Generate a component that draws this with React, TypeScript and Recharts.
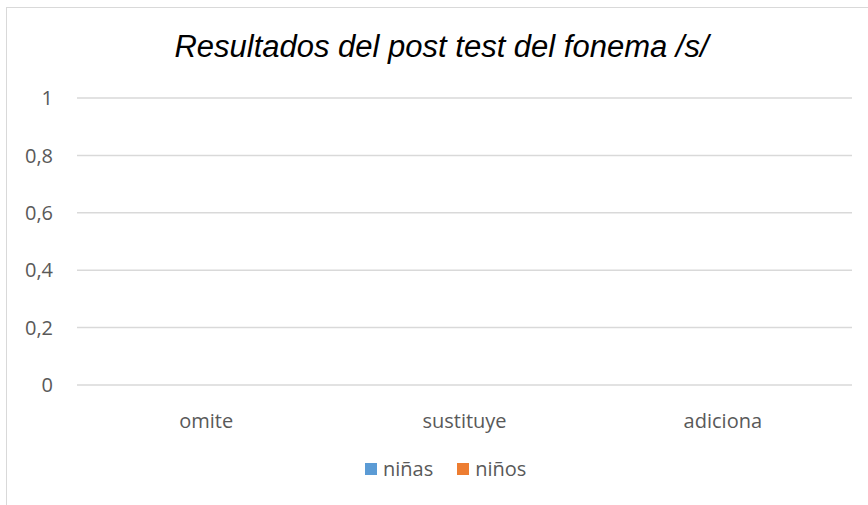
import React from "react";
import { BarChart, Bar, XAxis, YAxis, CartesianGrid } from "recharts";

const categories = ["omite", "sustituye", "adiciona"];
const ninas = [0, 0, 0];
const ninos = [0, 0, 0];
const yTicks = [0, 0.2, 0.4, 0.6, 0.8, 1];
const title = "Resultados del post test del fonema /s/";
const seriesNames = ["niñas", "niños"];
const seriesColors = ["#5B9BD5", "#ED7D31"];

const data = categories.map((c, i) => ({ name: c, ninas: ninas[i], ninos: ninos[i] }));

const fmt = (v: number) => String(v).replace(".", ",");

export default function App() {
  return (
    <div style={{ position: "absolute", left: 0, top: 0, width: 868, height: 505, overflow: "hidden", background: "#fff" }}>
      <div
        style={{
          position: "absolute",
          left: 6,
          top: 7,
          width: 920,
          height: 600,
          border: "1px solid #D9D9D9",
          boxSizing: "border-box",
        }}
      />
      <div
        style={{
          position: "absolute",
          left: 0,
          width: 883,
          top: 27,
          textAlign: "center",
          fontFamily: "'Liberation Sans', Arial, sans-serif",
          fontStyle: "italic",
          fontSize: 31,
          lineHeight: "40px",
          color: "#000",
          whiteSpace: "nowrap",
        }}
      >
        {title}
      </div>
      <div style={{ position: "absolute", left: 0, top: 0 }}>
        <BarChart
          width={868}
          height={505}
          data={data}
          margin={{ top: 98, right: 16, bottom: 90, left: 0 }}
          barGap={0}
        >
          <CartesianGrid vertical={false} stroke="#D9D9D9" strokeWidth={1.5} />
          <XAxis
            dataKey="name"
            axisLine={false}
            tickLine={false}
            tickSize={0}
            tickMargin={29}
            height={30}
            interval={0}
            tick={{ fill: "#595959", fontSize: 20, fontFamily: "'Open Sans', sans-serif" }}
          />
          <YAxis
            domain={[0, 1]}
            ticks={yTicks}
            tickFormatter={fmt}
            axisLine={false}
            tickLine={false}
            tickSize={0}
            tickMargin={24}
            width={77}
            tick={{ fill: "#595959", fontSize: 20, fontFamily: "'Open Sans', sans-serif" }}
          />
          <Bar dataKey="ninas" name={seriesNames[0]} fill={seriesColors[0]} isAnimationActive={false} />
          <Bar dataKey="ninos" name={seriesNames[1]} fill={seriesColors[1]} isAnimationActive={false} />
        </BarChart>
      </div>
      <div
        style={{
          position: "absolute",
          left: 365,
          top: 455,
          display: "flex",
          alignItems: "center",
          fontFamily: "'Open Sans', sans-serif",
          fontSize: 20,
          color: "#595959",
          whiteSpace: "nowrap",
          lineHeight: "28px",
        }}
      >
        {seriesNames.map((n, i) => (
          <div key={n} style={{ display: "flex", alignItems: "center", marginRight: i === 0 ? 24 : 0 }}>
            <div style={{ width: 12, height: 12, background: seriesColors[i], marginRight: 6 }} />
            <span>{n}</span>
          </div>
        ))}
      </div>
    </div>
  );
}
